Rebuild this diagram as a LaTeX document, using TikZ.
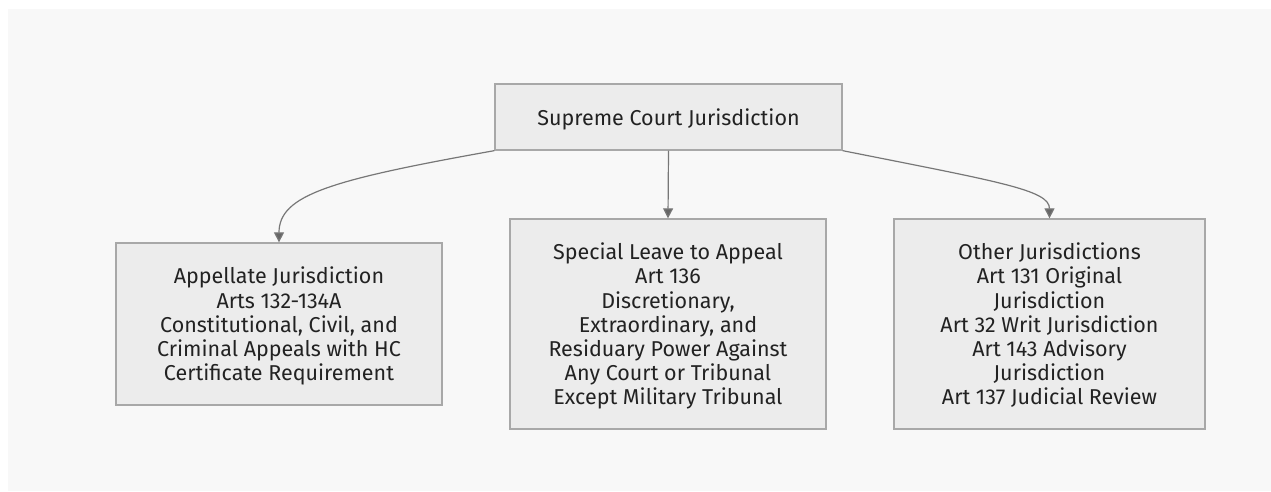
\documentclass[tikz,border=0pt]{standalone}
\usepackage{fontspec}
\setmainfont{Fira Sans}
\usetikzlibrary{arrows.meta}
\definecolor{panel}{HTML}{F8F8F8}
\definecolor{boxfill}{HTML}{ECECEC}
\definecolor{boxline}{HTML}{A8A8A8}
\definecolor{linec}{HTML}{777777}
\definecolor{tipc}{HTML}{666666}
\definecolor{txt}{HTML}{222222}
\begin{document}
\begin{tikzpicture}[x=1pt,y=-1pt,
  box/.style={draw=boxline, fill=boxfill, line width=1.3pt, align=center,
    font=\fontsize{21.5}{24.2}\selectfont, text=txt, inner sep=0pt, text depth=-2pt},
  conn/.style={draw=linec, line width=1.2pt,
    -{Triangle[length=10pt,width=10pt,fill=tipc]}}]
\useasboundingbox (0,0) rectangle (1271,491);
\fill[white] (0,0) rectangle (1271,491);
\fill[panel] (8,9) rectangle (1271,491);
\node[box, minimum width=347pt, minimum height=66pt] (top) at (668.5,117) {Supreme Court Jurisdiction};
\node[box, minimum width=326pt, minimum height=162pt] (app) at (279,324)
  {Appellate Jurisdiction\\Arts 132-134A\\Constitutional, Civil, and\\Criminal Appeals with HC\\Certificate Requirement};
\node[box, minimum width=316pt, minimum height=210pt] (slp) at (668,324)
  {Special Leave to Appeal\\Art 136\\Discretionary,\\Extraordinary, and\\Residuary Power Against\\Any Court or Tribunal\\Except Military Tribunal};
\node[box, minimum width=311pt, minimum height=210pt] (oth) at (1049.5,324)
  {Other Jurisdictions\\Art 131 Original\\Jurisdiction\\Art 32 Writ Jurisdiction\\Art 143 Advisory\\Jurisdiction\\Art 137 Judicial Review};
\draw[conn] (top.south west) .. controls (330,180) and (279,195) .. (app.north);
\draw[conn] (top.south) -- (slp.north);
\draw[conn] (top.south east) .. controls (1000,182) and (1049.5,190) .. (oth.north);
\end{tikzpicture}
\end{document}
